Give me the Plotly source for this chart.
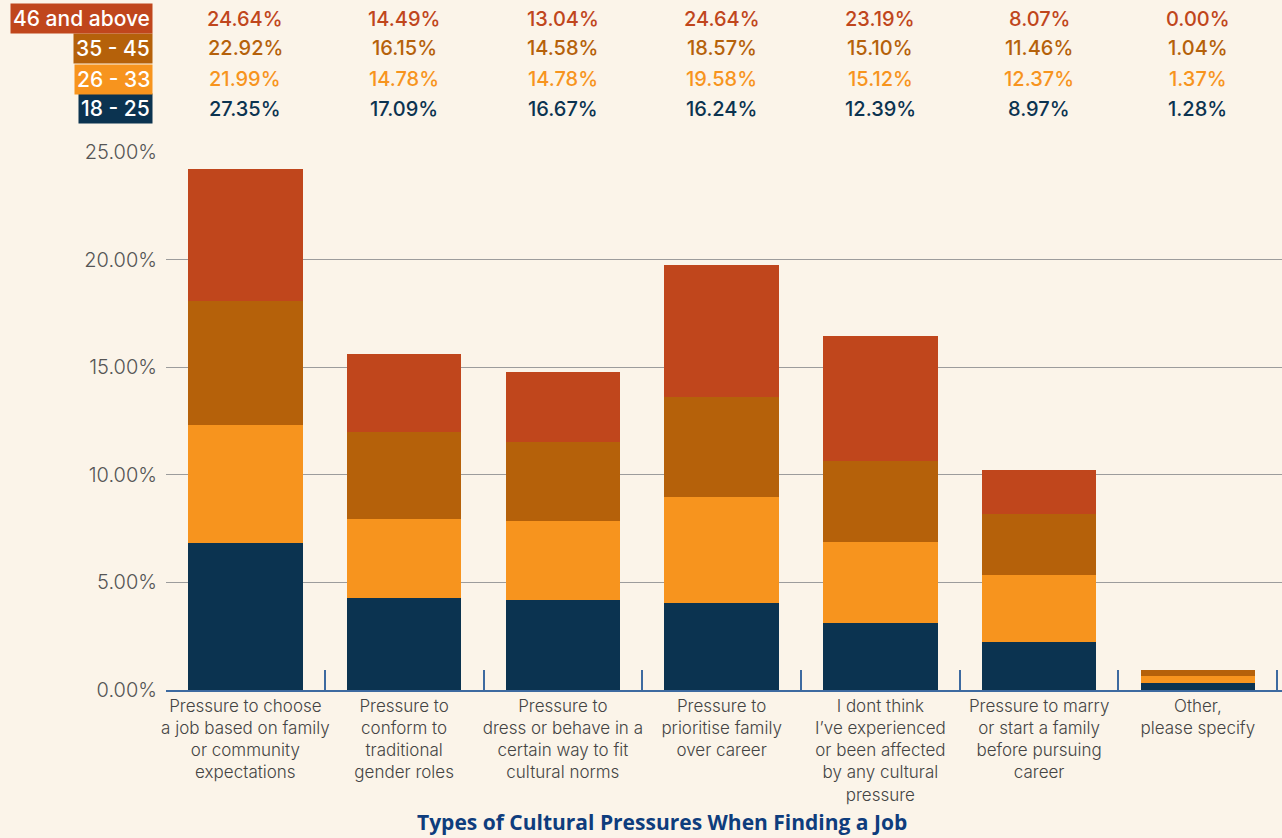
import plotly.graph_objects as go

# Categories (x-axis labels)
categories = [
    "Pressure to choose<br>a job based on family<br>or community<br>expectations",
    "Pressure to<br>conform to<br>traditional<br>gender roles",
    "Pressure to<br>dress or behave in a<br>certain way to fit<br>cultural norms",
    "Pressure to<br>prioritise family<br>over career",
    "I dont think<br>I’ve experienced<br>or been affected<br>by any cultural<br>pressure",
    "Pressure to marry<br>or start a family<br>before pursuing<br>career",
    "Other,<br>please specify",
]

# Share of each age group choosing each pressure (%)
age_18_25 = [27.35, 17.09, 16.67, 16.24, 12.39, 8.97, 1.28]
age_26_33 = [21.99, 14.78, 14.78, 19.58, 15.12, 12.37, 1.37]
age_35_45 = [22.92, 16.15, 14.58, 18.57, 15.10, 11.46, 1.04]
age_46_up = [24.64, 14.49, 13.04, 24.64, 23.19, 8.07, 0.00]

group_names = ["18 - 25", "26 - 33", "35 - 45", "46 and above"]
group_values = [age_18_25, age_26_33, age_35_45, age_46_up]
group_colors = ["#0B3350", "#F7941E", "#B5610A", "#C0461C"]
n_groups = len(group_names)

# Y-axis ticks
y_ticks = [0, 5, 10, 15, 20, 25]
y_tick_text = [f"{v:.2f}%" for v in y_ticks]

BG = "#FBF4E9"
AXIS_BLUE = "#3D6AA0"
FONT = "Inter"

W, H = 1282, 838
L, R, T, B = 166, 0, 152, 148
plot_h = H - T - B
plot_w = W - L - R


def px_to_paper_x(px):
    return (px - L) / plot_w


def px_to_paper_y(py):
    return (H - B - py) / plot_h


fig = go.Figure()

# Each stacked segment is the group's contribution to the across-group mean
for name, vals, col in zip(group_names, group_values, group_colors):
    fig.add_trace(go.Bar(
        x=categories,
        y=[v / n_groups for v in vals],
        name=name,
        marker=dict(color=col, line=dict(width=0)),
        showlegend=False,
        hoverinfo="skip",
    ))

annotations = []

# Table of values above the bars, one row per age group (top row = oldest)
row_centers = {"46 and above": 19, "35 - 45": 48, "26 - 33": 79, "18 - 25": 109}
for name, vals, col in zip(group_names, group_values, group_colors):
    yp = px_to_paper_y(row_centers[name])
    annotations.append(dict(
        x=px_to_paper_x(153), y=yp, xref="paper", yref="paper",
        xanchor="right", yanchor="middle", showarrow=False,
        text=name, bgcolor=col, borderpad=2,
        font=dict(family=FONT, size=21, color="white", weight=500),
    ))
    for cat, v in zip(categories, vals):
        annotations.append(dict(
            x=cat, y=yp, xref="x", yref="paper",
            xanchor="center", yanchor="middle", showarrow=False,
            text=f"{v:.2f}%",
            font=dict(family=FONT, size=20, color=col, weight=500),
        ))

# Chart title beneath the axis
annotations.append(dict(
    x=px_to_paper_x(662), y=px_to_paper_y(822), xref="paper", yref="paper",
    xanchor="center", yanchor="middle", showarrow=False,
    text="<b>Types of Cultural Pressures When Finding a Job</b>",
    font=dict(family="Open Sans", size=21, color="#0E3D7D"),
))

fig.update_layout(
    width=W, height=H,
    margin=dict(l=L, r=R, t=T, b=B, pad=0),
    paper_bgcolor=BG, plot_bgcolor=BG,
    barmode="stack", bargap=0.28,
    annotations=annotations,
    xaxis=dict(
        type="category",
        range=[-0.5, 6.53],
        tickson="boundaries",
        ticks="inside", ticklen=20, tickwidth=1.5, tickcolor=AXIS_BLUE,
        showline=True, linecolor=AXIS_BLUE, linewidth=1.5,
        showgrid=False,
        tickangle=0,
        automargin=False,
        tickfont=dict(family=FONT, size=17, color="#444444", weight=300),
        fixedrange=True,
    ),
    yaxis=dict(
        range=[0, 25],
        tickvals=y_ticks, ticktext=y_tick_text,
        showgrid=True, gridcolor="#9C9C9C", gridwidth=1,
        zeroline=False, showline=False, ticks="",
        ticklabelstandoff=8,
        automargin=False,
        tickfont=dict(family=FONT, size=20, color="#555555", weight=300),
        fixedrange=True,
    ),
)

fig.write_html("out.html")
